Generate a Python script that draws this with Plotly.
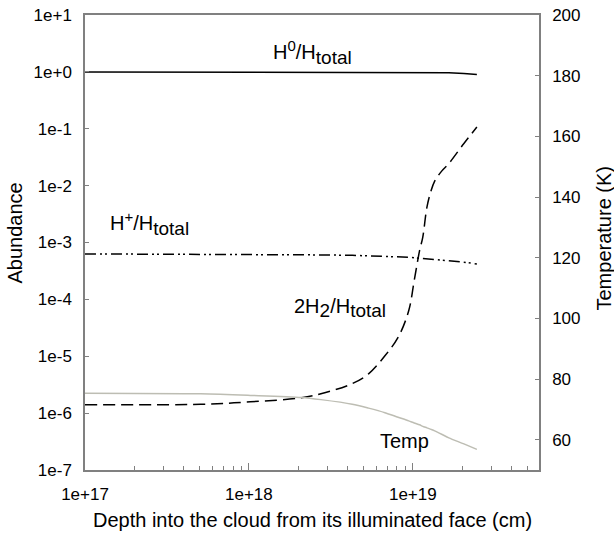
import plotly.graph_objects as go

# Depth into the cloud (cm)
depth = [1.0e17, 5.08e17, 1.02e18, 2.09e18, 2.75e18, 4.27e18, 5.37e18, 6.76e18,
         8.13e18, 9.44e18, 1.02e19, 1.10e19, 1.15e19, 1.22e19, 1.29e19, 1.36e19,
         1.50e19, 1.66e19, 2.05e19, 2.46e19]

h0_frac = [1.0, 1.0, 1.0, 1.0, 1.0, 1.0, 1.0, 1.0,
           1.0, 1.0, 1.0, 0.995, 0.993, 0.99, 0.987, 0.985,
           0.978, 0.97, 0.94, 0.90]

hplus_frac = [6.3e-4, 6.25e-4, 6.2e-4, 6.1e-4, 6.05e-4, 5.95e-4, 5.85e-4, 5.75e-4,
              5.6e-4, 5.5e-4, 5.4e-4, 5.3e-4, 5.25e-4, 5.15e-4, 5.05e-4, 5.0e-4,
              4.9e-4, 4.8e-4, 4.5e-4, 4.2e-4]

h2_frac = [1.41e-6, 1.43e-6, 1.58e-6, 1.86e-6, 2.19e-6, 3.3e-6, 4.9e-6, 1.02e-5,
           2.14e-5, 6.3e-5, 2.14e-4, 7.2e-4, 1.23e-3, 4.2e-3, 8.0e-3, 1.2e-2,
           1.8e-2, 2.45e-2, 5.5e-2, 1.07e-1]

temp_k = [75.3, 75.1, 74.6, 73.9, 73.2, 71.7, 70.4, 68.9,
          67.4, 66.2, 65.5, 64.9, 64.4, 63.9, 63.4, 62.9,
          61.8, 60.6, 58.6, 56.8]

x_tick_vals = [1e17, 1e18, 1e19]
x_tick_text = ["1e+17", "1e+18", "1e+19"]
x_minor_vals = [float(m) * 10.0 ** e for e in (17, 18, 19) for m in range(2, 10)]
y_tick_vals = [1e-7, 1e-6, 1e-5, 1e-4, 1e-3, 1e-2, 1e-1, 1e0, 1e1]
y_tick_text = ["1e-7", "1e-6", "1e-5", "1e-4", "1e-3", "1e-2", "1e-1", "1e+0", "1e+1"]
t_tick_vals = [60, 80, 100, 120, 140, 160, 180, 200]

FONT = "Liberation Sans, Arial, sans-serif"
AX = "#808080"

L, R, T, B = 85, 75, 15, 64
W, H = 614, 534
PW, PH = W - L - R, H - T - B


def px(xp):
    return (xp - L) / PW


def py(yp):
    return (H - B - yp) / PH


fig = go.Figure()
fig.add_trace(go.Scatter(x=depth, y=h0_frac, mode="lines",
                         line=dict(color="black", width=1.5)))
fig.add_trace(go.Scatter(x=depth, y=hplus_frac, mode="lines",
                         line=dict(color="black", width=1.5, dash="11px,4px,2px,3px,2px,4px")))
fig.add_trace(go.Scatter(x=depth, y=h2_frac, mode="lines",
                         line=dict(color="black", width=1.5, dash="12px,6px",
                                   shape="spline", smoothing=1.0)))
fig.add_trace(go.Scatter(x=depth, y=temp_k, mode="lines", yaxis="y2",
                         line=dict(color="#bdbdb3", width=1.5, shape="spline", smoothing=0.8)))

fig.update_layout(
    width=W, height=H,
    margin=dict(l=L, r=R, t=T, b=B),
    paper_bgcolor="white", plot_bgcolor="white",
    showlegend=False,
    font=dict(family=FONT, size=17, color="black"),
    xaxis=dict(type="log", range=[17, 19.77], tickmode="array",
               tickvals=x_tick_vals, ticktext=x_tick_text,
               ticks="inside", ticklen=7, tickcolor=AX, tickwidth=1,
               showline=True, linecolor=AX, linewidth=1.5, mirror=True,
               showgrid=False, zeroline=False, ticklabelstandoff=8, automargin=False,
               minor=dict(tickmode="array", tickvals=x_minor_vals, ticks="inside",
                          ticklen=4, tickcolor=AX, showgrid=False)),
    yaxis=dict(type="log", range=[-7, 1], tickmode="array",
               tickvals=y_tick_vals, ticktext=y_tick_text,
               ticks="inside", ticklen=4, tickcolor=AX,
               showline=True, linecolor=AX, linewidth=1.5, automargin=False,
               showgrid=False, zeroline=False, ticklabelstandoff=8),
    yaxis2=dict(overlaying="y", side="right", range=[50, 200], tickmode="array",
                tickvals=t_tick_vals, ticks="inside", ticklen=4, tickcolor=AX,
                showline=True, linecolor=AX, linewidth=1.5, automargin=False,
                showgrid=False, zeroline=False, ticklabelstandoff=8),
)

SUP = "<sup><span style='font-size:15px'>{}</span></sup>"
SUB = "<sub><span style='font-size:19px'>{}</span></sub>"
annots = [
    ("H" + SUP.format("0") + "/H" + SUB.format("total"), 271, 52),
    ("H" + SUP.format("+") + "/H" + SUB.format("total"), 108, 223),
    ("2H" + SUB.format("2") + "/H" + SUB.format("total"), 292, 308),
    ("Temp", 378, 440.5),
]
for text, xl, yc in annots:
    fig.add_annotation(text=text, x=px(xl), y=py(yc), xref="paper", yref="paper",
                       xanchor="left", yanchor="middle",
                       showarrow=False, font=dict(size=20, family=FONT))

fig.add_annotation(text="Abundance", x=0, y=py(233.5), xref="paper", yref="paper",
                   xanchor="center", yanchor="middle",
                   xshift=15 - L, textangle=-90, showarrow=False, font=dict(size=20))
fig.add_annotation(text="Temperature (K)", x=1, y=py(238.5), xref="paper", yref="paper",
                   xanchor="center", yanchor="middle",
                   xshift=603 - (W - R), textangle=-90, showarrow=False, font=dict(size=20))
fig.add_annotation(text="Depth into the cloud from its illuminated face (cm)",
                   x=px(312), y=py(520), xref="paper", yref="paper",
                   xanchor="center", yanchor="middle", showarrow=False,
                   font=dict(size=20))

fig.write_html("out.html", config={"displayModeBar": False},
               post_script="document.body.style.margin='0px';document.body.style.overflow='hidden';")
